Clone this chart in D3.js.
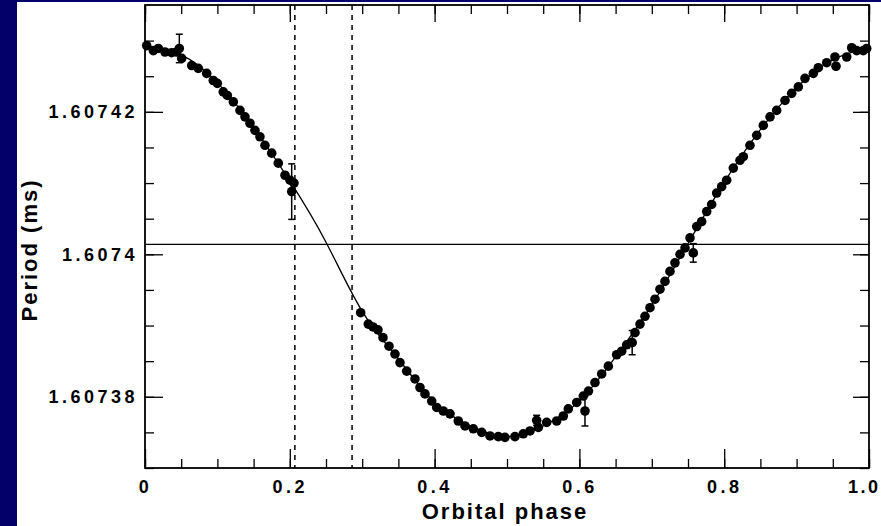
<!DOCTYPE html>
<html>
<head>
<meta charset="utf-8">
<script src="https://cdn.jsdelivr.net/npm/d3@7"></script>
<style>
  body { margin: 0; background: #03006a; }
  svg { display: block; }
  .tick text { font-family: "Liberation Sans", Arial, sans-serif; font-weight: bold; font-size: 18px; letter-spacing: 3.5px; fill: #000; }
</style>
</head>
<body>
<div class="canvas"></div>
<script>
// measured pulsar period vs orbital phase
const phases = [0.0023, 0.0115, 0.0184, 0.0276, 0.0369, 0.0438, 0.0474, 0.0507, 0.0645, 0.0736,
  0.0852, 0.0943, 0.0999, 0.1081, 0.1137, 0.1220, 0.1312, 0.1381, 0.1450, 0.1519,
  0.1588, 0.1657, 0.1750, 0.1841, 0.1934, 0.2003, 0.2058, 0.2026,
  0.2979, 0.3084, 0.3149, 0.3218, 0.3287, 0.3370, 0.3453, 0.3522, 0.3615, 0.3729,
  0.3798, 0.3867, 0.3960, 0.4029, 0.4120, 0.4213, 0.4327, 0.4420, 0.4535, 0.4651,
  0.4765, 0.4880, 0.4972, 0.5110, 0.5225, 0.5318, 0.5410, 0.5433, 0.5548, 0.5686,
  0.5778, 0.5847, 0.5963, 0.6054, 0.6077, 0.6125, 0.6215, 0.6308, 0.6400, 0.6515,
  0.6584, 0.6653, 0.6729, 0.6768, 0.6837, 0.6906, 0.6975, 0.7044, 0.7113, 0.7182,
  0.7251, 0.7320, 0.7390, 0.7459, 0.7528, 0.7573, 0.7620, 0.7689, 0.7758, 0.7827,
  0.7896, 0.7965, 0.8034, 0.8126, 0.8218, 0.8264, 0.8356, 0.8449, 0.8540, 0.8633,
  0.8725, 0.8840, 0.8932, 0.9024, 0.9116, 0.9231, 0.9300, 0.9416, 0.9530, 0.9544,
  0.9692, 0.9761, 0.9830, 0.9921, 0.9968];

const periods = [1.6074293, 1.6074286, 1.6074289, 1.6074284, 1.6074283, 1.6074284, 1.6074289, 1.6074275, 1.6074265, 1.6074261,
  1.6074254, 1.6074244, 1.6074240, 1.6074228, 1.6074223, 1.6074214, 1.6074202, 1.6074193, 1.6074184, 1.6074174,
  1.6074165, 1.6074153, 1.6074142, 1.6074128, 1.6074111, 1.6074104, 1.6074100, 1.6074088,
  1.6073918, 1.6073902, 1.6073898, 1.6073894, 1.6073883, 1.6073871, 1.6073860, 1.6073848, 1.6073836, 1.6073825,
  1.6073813, 1.6073804, 1.6073794, 1.6073785, 1.6073780, 1.6073776, 1.6073766, 1.6073759, 1.6073755, 1.6073750,
  1.6073745, 1.6073744, 1.6073743, 1.6073744, 1.6073748, 1.6073752, 1.6073767, 1.6073757, 1.6073764, 1.6073766,
  1.6073773, 1.6073783, 1.6073792, 1.6073801, 1.6073780, 1.6073808, 1.6073820, 1.6073832, 1.6073843, 1.6073859,
  1.6073864, 1.6073873, 1.6073876, 1.6073890, 1.6073902, 1.6073913, 1.6073925, 1.6073937, 1.6073951, 1.6073962,
  1.6073976, 1.6073988, 1.6074000, 1.6074009, 1.6074023, 1.6074002, 1.6074039, 1.6074046, 1.6074060, 1.6074070,
  1.6074086, 1.6074095, 1.6074104, 1.6074121, 1.6074132, 1.6074137, 1.6074153, 1.6074167, 1.6074181, 1.6074193,
  1.6074202, 1.6074216, 1.6074226, 1.6074235, 1.6074247, 1.6074254, 1.6074262, 1.6074269, 1.6074277, 1.6074264,
  1.6074277, 1.6074290, 1.6074286, 1.6074286, 1.6074289];

// error bars (phase, period, half-length)
const errPhases = [0.0474, 0.2026, 0.5410, 0.6077, 0.6729, 0.7573];
const errPeriods = [1.6074289, 1.6074088, 1.6073767, 1.6073780, 1.6073876, 1.6074002];
const errSizes = [0.0000020, 0.0000039, 0.0000007, 0.0000021, 0.0000017, 0.0000013];

// orbit model curve
const fitPhases = [0, 0.05, 0.1, 0.15, 0.2, 0.25, 0.3, 0.35, 0.4, 0.45, 0.5,
  0.55, 0.6, 0.65, 0.7, 0.75, 0.8, 0.85, 0.9, 0.95, 1.0];
const fitPeriods = [1.6074292, 1.6074280, 1.6074241, 1.6074178, 1.6074103, 1.6074017, 1.6073920, 1.6073853, 1.6073792, 1.6073759, 1.6073744,
  1.6073759, 1.6073794, 1.6073856, 1.6073929, 1.6074015, 1.6074101, 1.6074175, 1.6074234, 1.6074273, 1.6074290];

const meanPeriod = 1.6074014;
const markerPhases = [0.207, 0.286];

const xMajor = [0, 0.2, 0.4, 0.6, 0.8, 1.0];
const yMajor = [1.60738, 1.6074, 1.60742];

const W = 881, H = 526;
const margin = { top: 5, right: 12, bottom: 58, left: 145 };
const graphWidth = W - margin.left - margin.right;
const graphHeight = H - margin.top - margin.bottom;

const svg = d3.select('.canvas')
    .append('svg')
    .attr('width', W)
    .attr('height', H);

// navy border + white page
svg.append('rect').attr('width', W).attr('height', H).attr('fill', '#03006a');
svg.append('rect').attr('x', 17).attr('y', 2).attr('width', W - 17).attr('height', H - 2).attr('fill', '#fff');

const graph = svg.append('g')
    .attr('transform', `translate(${margin.left},${margin.top})`);

const x = d3.scaleLinear().domain([0, 1]).range([0, graphWidth]);
const y = d3.scaleLinear().domain([1.60737, 1.607435]).range([graphHeight, 0]);

const xMinor = d3.range(0, 1.0001, 0.05);
const yMinor = d3.range(1.60737, 1.607435, 0.000005);

// minor ticks on all four sides
graph.append('g').attr('transform', `translate(0,${graphHeight})`)
    .call(d3.axisBottom(x).tickValues(xMinor).tickSize(-9).tickFormat(''));
graph.append('g')
    .call(d3.axisTop(x).tickValues(xMinor).tickSize(-9).tickFormat(''));
graph.append('g')
    .call(d3.axisLeft(y).tickValues(yMinor).tickSize(-9).tickFormat(''));
graph.append('g').attr('transform', `translate(${graphWidth},0)`)
    .call(d3.axisRight(y).tickValues(yMinor).tickSize(-9).tickFormat(''));

// major ticks with labels
const xAxisGroup = graph.append('g').attr('transform', `translate(0,${graphHeight})`)
    .call(d3.axisBottom(x).tickValues(xMajor).tickSize(-19).tickPadding(12)
        .tickFormat(d => d === 0 ? '0' : d3.format('.1f')(d)));
graph.append('g')
    .call(d3.axisTop(x).tickValues(xMajor).tickSize(-17).tickFormat(''));
graph.append('g')
    .call(d3.axisLeft(y).tickValues(yMajor).tickSize(-18).tickPadding(7)
        .tickFormat(d => String(+d.toFixed(5))));
graph.append('g').attr('transform', `translate(${graphWidth},0)`)
    .call(d3.axisRight(y).tickValues(yMajor).tickSize(-16).tickFormat(''));

// keep the last phase label inside the page
xAxisGroup.selectAll('.tick text')
    .filter(d => d === 1)
    .attr('text-anchor', 'end')
    .attr('x', 11)
    .style('letter-spacing', '2.5px');

graph.selectAll('.domain').remove();
graph.selectAll('.tick line').attr('stroke', '#000').attr('stroke-width', 1.3);

// frame
graph.append('rect')
    .attr('width', graphWidth)
    .attr('height', graphHeight)
    .attr('fill', 'none')
    .attr('stroke', '#000')
    .attr('stroke-width', 1.8);

// mean period line
graph.append('line')
    .attr('x1', 0).attr('x2', graphWidth)
    .attr('y1', y(meanPeriod)).attr('y2', y(meanPeriod))
    .attr('stroke', '#000').attr('stroke-width', 1.2);

// eclipse markers
graph.selectAll('.marker')
    .data(markerPhases)
    .enter().append('line')
    .attr('x1', d => x(d)).attr('x2', d => x(d))
    .attr('y1', 0).attr('y2', graphHeight)
    .attr('stroke', '#000').attr('stroke-width', 1.5)
    .attr('stroke-dasharray', '5,5');

// model curve
const fit = fitPhases.map((p, i) => ({ phase: p, period: fitPeriods[i] }));
graph.append('path')
    .datum(fit)
    .attr('fill', 'none')
    .attr('stroke', '#000')
    .attr('stroke-width', 1.3)
    .attr('d', d3.line().x(d => x(d.phase)).y(d => y(d.period)).curve(d3.curveNatural));

// error bars
const errs = errPhases.map((p, i) => ({ phase: p, period: errPeriods[i], e: errSizes[i] }));
const eb = graph.selectAll('.err').data(errs).enter().append('g');
eb.append('line')
    .attr('x1', d => x(d.phase)).attr('x2', d => x(d.phase))
    .attr('y1', d => y(d.period + d.e)).attr('y2', d => y(d.period - d.e));
eb.append('line')
    .attr('x1', d => x(d.phase) - 3.5).attr('x2', d => x(d.phase) + 3.5)
    .attr('y1', d => y(d.period + d.e)).attr('y2', d => y(d.period + d.e));
eb.append('line')
    .attr('x1', d => x(d.phase) - 3.5).attr('x2', d => x(d.phase) + 3.5)
    .attr('y1', d => y(d.period - d.e)).attr('y2', d => y(d.period - d.e));
eb.selectAll('line').attr('stroke', '#000').attr('stroke-width', 1.5);

// data points
const data = phases.map((p, i) => ({ phase: p, period: periods[i] }));
graph.selectAll('circle')
    .data(data)
    .enter()
    .append('circle')
    .attr('cx', d => x(d.phase))
    .attr('cy', d => y(d.period))
    .attr('r', 4.8)
    .attr('fill', '#000');

// axis titles
svg.append('text')
    .attr('x', 505).attr('y', 519)
    .attr('text-anchor', 'middle')
    .style('font-family', '"Liberation Sans", Arial, sans-serif')
    .style('font-weight', 'bold')
    .style('font-size', '22px')
    .style('letter-spacing', '2px')
    .text('Orbital phase');

svg.append('text')
    .attr('transform', 'translate(37,250) rotate(-90)')
    .attr('text-anchor', 'middle')
    .style('font-family', '"Liberation Sans", Arial, sans-serif')
    .style('font-weight', 'bold')
    .style('font-size', '22px')
    .style('letter-spacing', '2px')
    .text('Period (ms)');
</script>
</body>
</html>
